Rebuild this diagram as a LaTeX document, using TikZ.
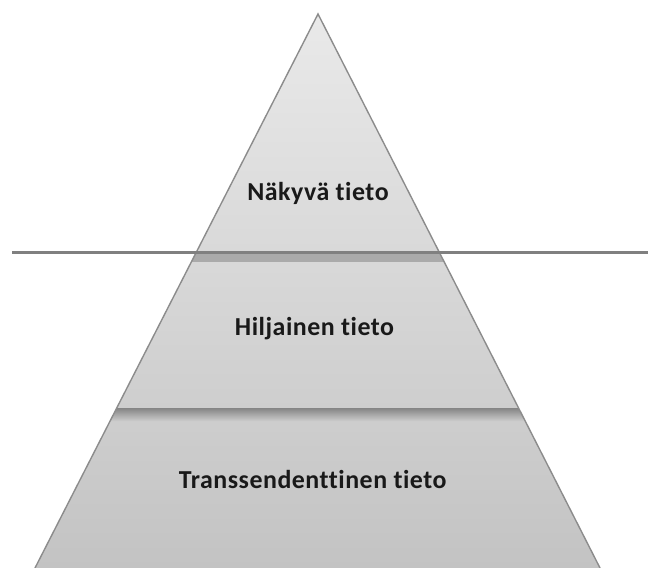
\documentclass[tikz,border=0pt]{standalone}
\usepackage{fontspec}
\setmainfont{Carlito}[Ligatures={NoCommon}, LetterSpace=2]
\begin{document}
\begin{tikzpicture}[x=1bp,y=-1bp,
  layerlabel/.style={font=\bfseries\fontsize{26}{30}\selectfont, text=black!90, inner sep=0pt},
  edgeline/.style={draw=black!45, line width=1.4bp},
  divider/.style={draw=black!50, line width=3.5bp}]
\useasboundingbox (0,0) rectangle (648,568);
\definecolor{pyrtop}{gray}{0.915}
\definecolor{pyrbot}{gray}{0.765}
% pyramid corners
\coordinate (apex) at (318,14);
\coordinate (bl) at (35,568);
\coordinate (br) at (600,568);
% body with a soft top-to-bottom shading
\shade[top color=pyrtop, bottom color=pyrbot] (apex) -- (bl) -- (br) -- cycle;
% shadows under the dividers, kept inside the pyramid
\begin{scope}
  \clip (apex) -- (bl) -- (br) -- cycle;
  \shade[top color=black!48, bottom color=black!48!white, opacity=0.55] (0,254) rectangle (648,261);
  \shade[top color=black!55, bottom color=black!20, opacity=0.8] (0,408) rectangle (648,421);
\end{scope}
% sides
\draw[edgeline] (bl) -- (apex) -- (br);
% upper divider spans the whole width
\coordinate (d1l) at (12,252.5);
\coordinate (d1r) at (648,252.5);
\draw[divider] (d1l) -- (d1r);
% labels
\node[layerlabel] (n1) at (318,193) {Näkyvä tieto};
\node[layerlabel] (n2) at (314.5,329) {Hiljainen tieto};
\node[layerlabel] (n3) at (312.7,480) {Transsendenttinen tieto};
\end{tikzpicture}
\end{document}
